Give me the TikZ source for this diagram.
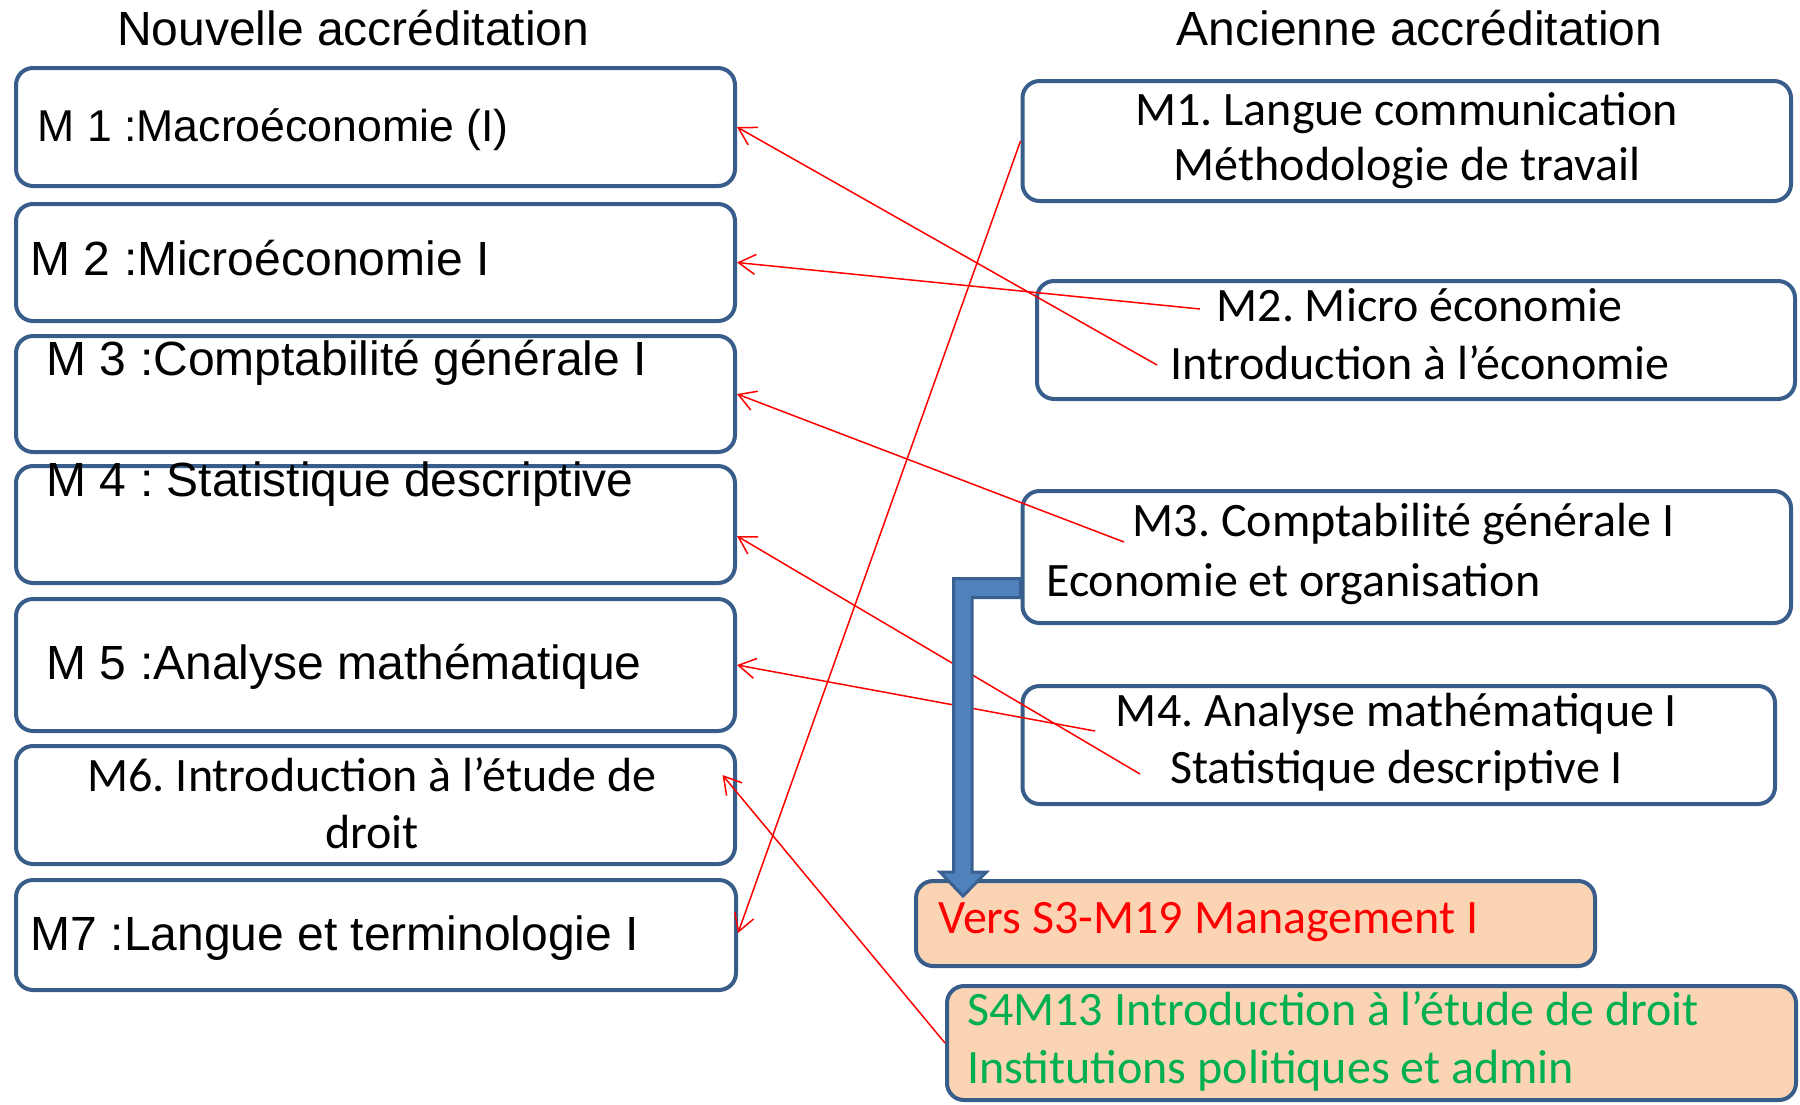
\documentclass[tikz,border=0pt]{standalone}
\usepackage{fontspec}
\setmainfont{Liberation Sans}
\newfontfamily\calfont{Carlito}
\usetikzlibrary{arrows.meta,calc}
\definecolor{boxblue}{HTML}{385D8A}
\definecolor{arrowfill}{HTML}{4F81BD}
\definecolor{arrowline}{HTML}{3A6090}
\definecolor{peach}{HTML}{FBD4B4}
\definecolor{grn}{HTML}{00B050}
\frenchspacing
\begin{document}
\begin{tikzpicture}[x=1pt,y=-1pt,
  box/.style={draw=boxblue, line width=4pt, rounded corners=17pt, inner sep=0pt, fill=white},
  pbox/.style={box, fill=peach},
  arial/.style={font=\fontsize{48pt}{57pt}\selectfont, inner sep=0pt},
  cal/.style={font=\calfont\fontsize{48pt}{57pt}\selectfont, inner sep=0pt},
  link/.style={red, line width=1.5pt, -{Straight Barb[length=17pt,width=20pt]}},
  bigarrow/.style={fill=arrowfill, draw=arrowline, line width=3pt, line join=miter}
]
\useasboundingbox (0,0) rectangle (1800,1104);

% titles
\node[arial, anchor=base west] (t1) at (117,45) {Nouvelle accréditation};
\node[arial, anchor=base] (t2) at (1419.5,45) {Ancienne accréditation};

% left boxes
\node[box, minimum width=719pt, minimum height=118pt] (m1) at (375.5,127) {};
\node[box, minimum width=719pt, minimum height=117pt] (m2) at (375.5,262.5) {};
\node[box, minimum width=719pt, minimum height=116pt] (m3) at (375.5,394) {};
\node[box, minimum width=719pt, minimum height=117pt] (m4) at (375.5,524.5) {};
\node[box, minimum width=719pt, minimum height=132pt] (m5) at (375.5,665) {};
\node[box, minimum width=719pt, minimum height=118pt] (m6) at (375.5,805) {};
\node[box, minimum width=720pt, minimum height=110pt] (m7) at (376,935) {};

% right boxes
\node[box, minimum width=768.5pt, minimum height=120pt] (o1) at (1406.75,141) {};
\node[box, minimum width=758pt, minimum height=118pt] (o2) at (1416,340) {};
\node[box, minimum width=768.5pt, minimum height=132pt] (o3) at (1406.75,557) {};
\node[box, minimum width=752.5pt, minimum height=118pt] (o4) at (1398.75,745) {};
\node[pbox, minimum width=679pt, minimum height=85pt] (vers) at (1255.5,923.5) {};
\node[pbox, minimum width=849pt, minimum height=114pt] (s4) at (1371.5,1043) {};

% left texts
\node[arial, anchor=base west, font=\fontsize{44.6pt}{53pt}\selectfont] (m1t) at (37.5,141) {M 1 :Macroéconomie (I)};
\node[arial, anchor=base west] (m2t) at (30.5,275) {M 2 :Microéconomie I};
\node[arial, anchor=base west] (m3t) at (46.5,375) {M 3 :Comptabilité générale I};
\node[arial, anchor=base west] (m4t) at (46.5,496) {M 4 : Statistique descriptive};
\node[arial, anchor=base west] (m5t) at (46.5,679) {M 5 :Analyse mathématique};
\node[cal, anchor=base] (m6ta) at (372,791) {M6. Introduction à l’étude de};
\node[cal, anchor=base] (m6tb) at (372,848) {droit};
\node[arial, anchor=base west] (m7t) at (30.5,950) {M7 :Langue et terminologie I};

% right texts
\node[cal, anchor=base] (o1ta) at (1406.5,125) {M1. Langue communication};
\node[cal, anchor=base] (o1tb) at (1407,180) {Méthodologie de travail};
\node[cal, anchor=base] (o2ta) at (1419.5,321) {M2. Micro économie};
\node[cal, anchor=base] (o2tb) at (1420,379) {Introduction à l’économie};
\node[cal, anchor=base] (o3ta) at (1403.5,536) {M3. Comptabilité générale I};
\node[cal, anchor=base west] (o3tb) at (1046,596) {Economie et organisation};
\node[cal, anchor=base] (o4ta) at (1396.5,726) {M4. Analyse mathématique I};
\node[cal, anchor=base] (o4tb) at (1396.5,783) {Statistique descriptive I};
\node[cal, anchor=base west, text=red] (verst) at (938,933) {Vers S3-M19 Management I};
\node[cal, anchor=base west, text=grn] (s4ta) at (967,1025) {S4M13 Introduction à l’étude de droit};
\node[cal, anchor=base west, text=grn] (s4tb) at (967,1083) {Institutions politiques et admin};

% connector start points
\coordinate (c2a) at (1200,309);
\coordinate (c2b) at (1157,365);
\coordinate (c3) at (1124,542);
\coordinate (c4a) at (1095,731);
\coordinate (c4b) at (1140,774);

% red links
\draw[link] (c2b) -- (m1.east);
\draw[link] (c2a) -- (m2.east);
\draw[link] (c3) -- (m3.east);
\draw[link] (c4b) -- ([yshift=-11.5pt]m4.east);
\draw[link] (c4a) -- (m5.east);
\draw[link] (s4.west) -- ([xshift=-14.5pt,yshift=30pt]m6.east);
\draw[link] (o1.west) -- ([yshift=2pt]m7.east);

% big bent arrow from o3 to vers
\coordinate (ba1) at (o3.west |- 0,578.5);
\coordinate (ba2) at (o3.west |- 0,597.5);
\filldraw[bigarrow] (ba1) -- (953.5,578.5) -- (953.5,872) -- (940,872) -- (963,896)
  -- (986.5,872) -- (972,872) -- (972,597.5) -- (ba2) -- cycle;
\end{tikzpicture}
\end{document}
